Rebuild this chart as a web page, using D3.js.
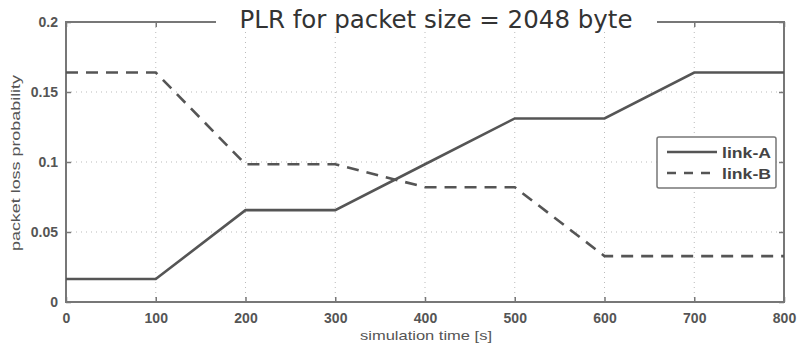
<!DOCTYPE html>
<html><head><meta charset="utf-8">
<script src="https://cdn.jsdelivr.net/npm/d3@7/dist/d3.min.js"></script>
<style>body{margin:0;background:#fff}svg{display:block}</style>
</head><body>
<svg id="c" width="801" height="351"></svg>
<script>
const times = [0, 100, 200, 300, 400, 500, 600, 700, 800];
const linkA = [0.0164, 0.0164, 0.0656, 0.0656, 0.0984, 0.1311, 0.1311, 0.1639, 0.1639];
const linkB = [0.1639, 0.1639, 0.0984, 0.0984, 0.082, 0.082, 0.0328, 0.0328, 0.0328];
const xTicks = [0, 100, 200, 300, 400, 500, 600, 700, 800];
const yTicks = [0, 0.05, 0.1, 0.15, 0.2];
const yTickLabels = ["0", "0.05", "0.1", "0.15", "0.2"];
const seriesNames = ["link-A", "link-B"];

const svg = d3.select("#c");
const L = 66, R = 784, T = 22, B = 302;
const x = d3.scaleLinear().domain([0, 800]).range([L, R]);
const y = d3.scaleLinear().domain([0, 0.2]).range([B, T]);
const axisCol = "#777", lineCol = "#555";
const font = "Arial, 'Liberation Sans', sans-serif";

// grid
const g = svg.append("g");
g.selectAll(".gx").data(xTicks.slice(1, -1)).join("line")
  .attr("x1", d => x(d)).attr("x2", d => x(d)).attr("y1", T).attr("y2", B)
  .attr("stroke", "#bbb").attr("stroke-width", 1).attr("stroke-dasharray", "1,4");
g.selectAll(".gy").data(yTicks.slice(1, -1)).join("line")
  .attr("y1", d => y(d)).attr("y2", d => y(d)).attr("x1", L).attr("x2", R)
  .attr("stroke", "#bbb").attr("stroke-width", 1).attr("stroke-dasharray", "1,4");

// box
svg.append("rect").attr("x", L).attr("y", T).attr("width", R - L).attr("height", B - T)
  .attr("fill", "none").attr("stroke", axisCol).attr("stroke-width", 2);

// axes
const xa = svg.append("g").attr("transform", `translate(0,${B})`)
  .call(d3.axisBottom(x).tickValues(xTicks).tickSize(-5).tickPadding(11).tickFormat(d3.format("d")));
const xt = svg.append("g").attr("transform", `translate(0,${T})`)
  .call(d3.axisTop(x).tickValues(xTicks).tickSize(-5).tickFormat(""));
const ya = svg.append("g").attr("transform", `translate(${L},0)`)
  .call(d3.axisLeft(y).tickValues(yTicks).tickSize(-5).tickPadding(8).tickFormat((d, i) => yTickLabels[i]));
const yr = svg.append("g").attr("transform", `translate(${R},0)`)
  .call(d3.axisRight(y).tickValues(yTicks).tickSize(-5).tickFormat(""));
[xa, xt, ya, yr].forEach(a => {
  a.select(".domain").remove();
  a.selectAll("line").attr("stroke", axisCol).attr("stroke-width", 1.5);
  a.selectAll("text").attr("fill", "#555").style("font-family", font)
    .style("font-size", "14px").style("font-weight", "bold");
});

// lines
const line = d3.line().x((d, i) => x(times[i])).y(d => y(d));
svg.append("path").datum(linkA).attr("d", line).attr("fill", "none")
  .attr("stroke", lineCol).attr("stroke-width", 2.6);
svg.append("path").datum(linkB).attr("d", line).attr("fill", "none")
  .attr("stroke", lineCol).attr("stroke-width", 2.6).attr("stroke-dasharray", "12,8");

// title with white backing over top border
svg.append("rect").attr("x", 216).attr("y", 12).attr("width", 441).attr("height", 20).attr("fill", "#fff");
svg.append("text").attr("x", 436).attr("y", 28).attr("text-anchor", "middle")
  .style("font-family", "'DejaVu Sans', Verdana, sans-serif").style("font-size", "24.5px")
  .attr("fill", "#333").text("PLR for packet size = 2048 byte");

// axis labels
svg.append("text").attr("x", 426).attr("y", 340).attr("text-anchor", "middle")
  .attr("textLength", 132).attr("lengthAdjust", "spacingAndGlyphs")
  .style("font-family", font).style("font-size", "13px")
  .attr("fill", "#555").text("simulation time [s]");
svg.append("text").attr("transform", `translate(20,163) rotate(-90)`).attr("text-anchor", "middle")
  .attr("textLength", 176).attr("lengthAdjust", "spacingAndGlyphs")
  .style("font-family", font).style("font-size", "13px")
  .attr("fill", "#555").text("packet loss probability");

// legend
const lg = svg.append("g");
lg.append("rect").attr("x", 657).attr("y", 137).attr("width", 119).attr("height", 51).attr("rx", 2)
  .attr("fill", "#fff").attr("stroke", axisCol).attr("stroke-width", 1.5);
seriesNames.forEach((n, i) => {
  const yy = 152 + i * 21;
  lg.append("line").attr("x1", 667).attr("x2", 717).attr("y1", yy).attr("y2", yy)
    .attr("stroke", lineCol).attr("stroke-width", 2.6).attr("stroke-dasharray", i ? "9,8" : null);
  lg.append("text").attr("x", 722).attr("y", yy + 6)
    .attr("textLength", 49).attr("lengthAdjust", "spacingAndGlyphs")
    .style("font-family", font).style("font-size", "15px").style("font-weight", "bold")
    .attr("fill", "#444").text(n);
});
</script>
</body></html>
